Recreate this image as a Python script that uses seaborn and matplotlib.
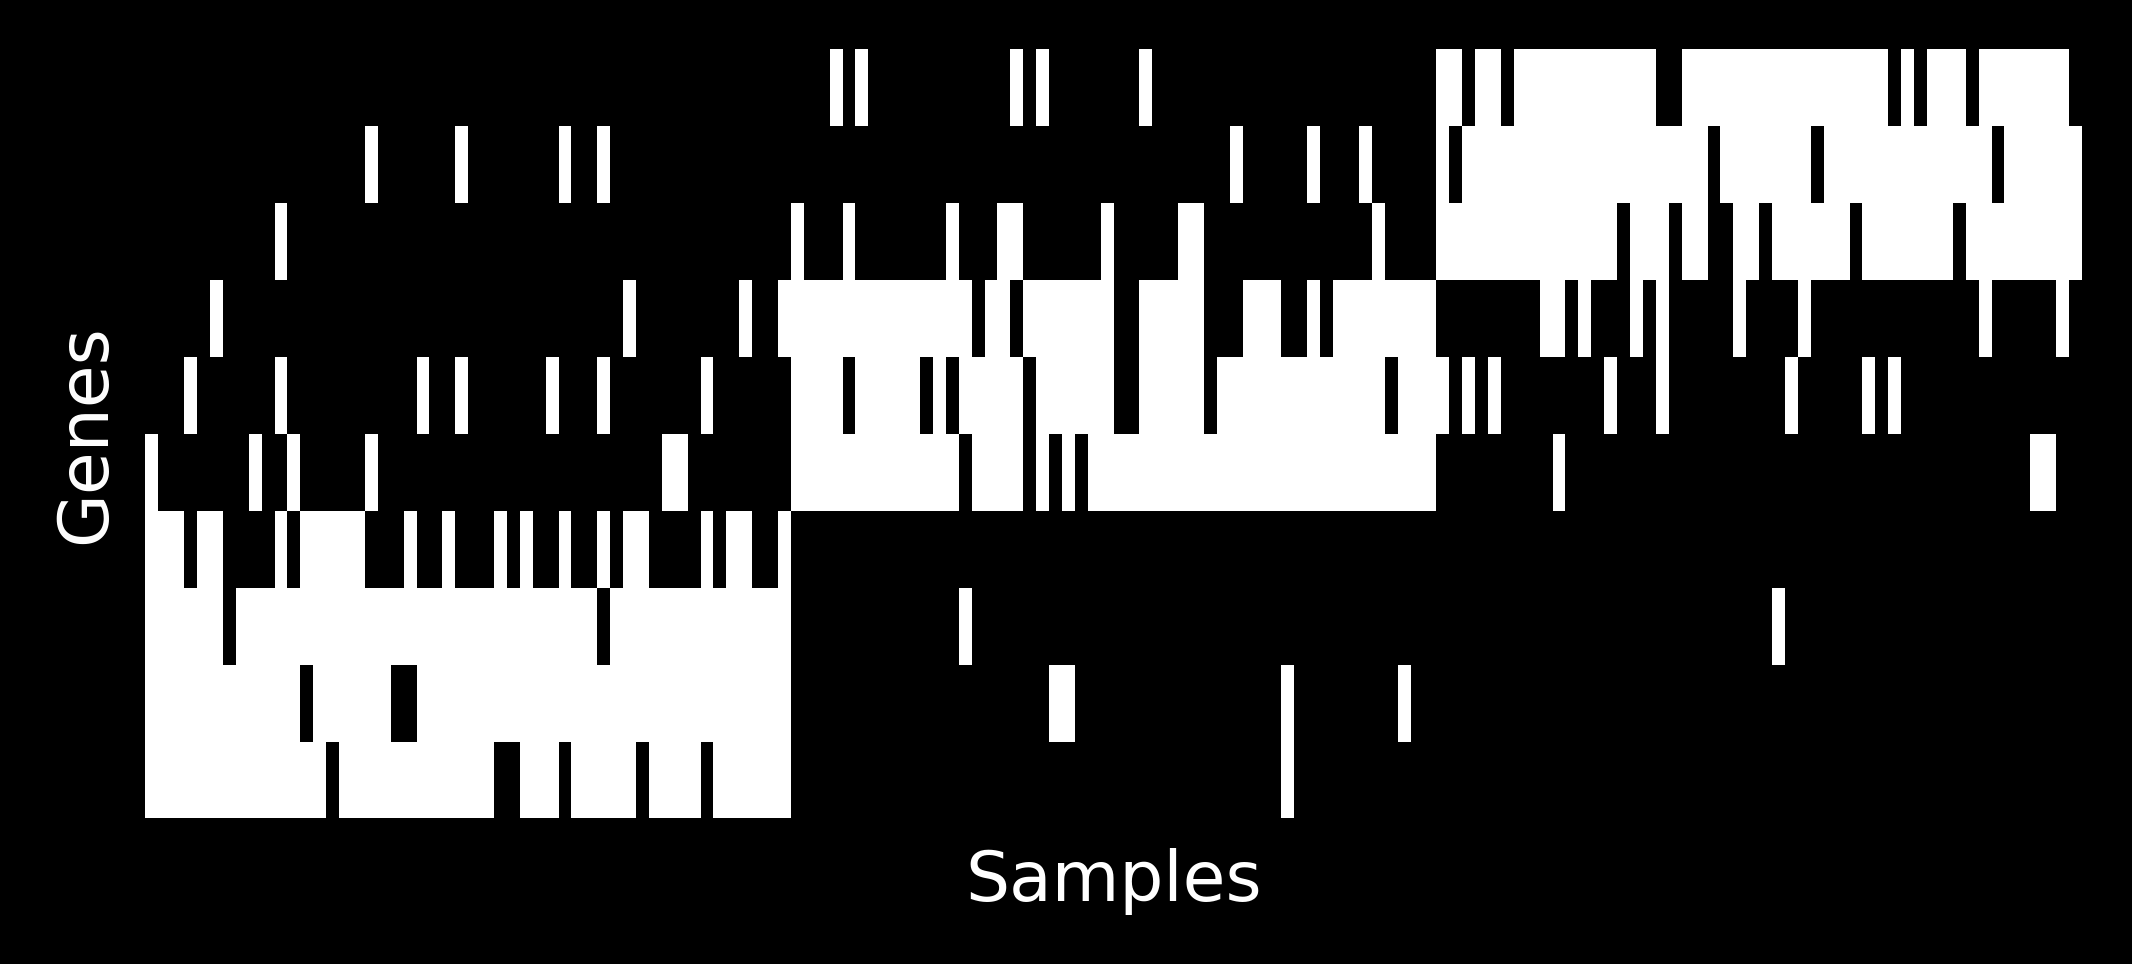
import numpy as np
import pandas as pd
import matplotlib
matplotlib.use("Agg")
import matplotlib.pyplot as plt
import seaborn as sns

# binary gene x sample matrix (10 genes, 150 samples)
# three sample groups of 50, one 0/1 string per gene, top gene first
group_1 = [
    "0000000000 0000000000 0000000000 0000000000 0000000000",
    "0000000000 0000000100 0000100000 0010010000 0000000000",
    "0000000000 1000000000 0000000000 0000000000 0000000000",
    "0000010000 0000000000 0000000000 0000000100 0000001001",
    "0001000000 1000000000 0100100000 0100010000 0001000000",
    "1000000010 0100000100 0000000000 0000000000 1100000000",
    "1110110000 1011111000 1001000101 0010010110 0001011001",
    "1111110111 1111111111 1111111111 1111101111 1111111111",
    "1111111111 1101111110 0111111111 1111111111 1111111111",
    "1111111111 1111011111 1111111001 1101111101 1110111111",
]
group_2 = [
    "0001010000 0000000101 0000000100 0000000000 0000000000",
    "0000000000 0000000000 0000000000 0000100000 1000100000",
    "1000100000 0010001100 0000100000 1100000000 0000010000",
    "1111111111 1111011011 1111100111 1100011100 1011111111",
    "1111011111 0101111101 1111100111 1101111111 1111110111",
    "1111111111 1110111101 0101111111 1111111111 1111111111",
    "0000000000 0000000000 0000000000 0000000000 0000000000",
    "0000000000 0001000000 0000000000 0000000000 0000000000",
    "0000000000 0000000000 1100000000 0000000010 0000000100",
    "0000000000 0000000000 0000000000 0000000010 0000000000",
]
group_3 = [
    "1101101111 1111111001 1111111111 1111101011 1011111110",
    "1011111111 1111111111 1011111110 1111111111 1110111111",
    "1111111111 1111011101 1001101111 1101111111 0111111111",
    "0000000011 0100010100 0001000010 0000000000 0010000010",
    "1010100000 0001000100 0000000100 0001010000 0000000000",
    "0000000001 0000000000 0000000000 0000000000 0000001100",
    "0000000000 0000000000 0000000000 0000000000 0000000000",
    "0000000000 0000000000 0000001000 0000000000 0000000000",
    "0000000000 0000000000 0000000000 0000000000 0000000000",
    "0000000000 0000000000 0000000000 0000000000 0000000000",
]

gene_names = [f"gene_{i + 1}" for i in range(10)]

rows = []
for a, b, c in zip(group_1, group_2, group_3):
    s = (a + b + c).replace(" ", "")
    rows.append([int(ch) for ch in s])
matrix = np.array(rows)
sample_names = [f"s{i + 1}" for i in range(matrix.shape[1])]
df = pd.DataFrame(matrix, index=gene_names, columns=sample_names)

# style
sns.set_theme(style="white", font="DejaVu Sans")
plt.rcParams["font.family"] = ["DejaVu Sans"]

fig = plt.figure(figsize=(10.66, 4.82), dpi=200, facecolor="black")
ax = fig.add_axes([0.0682, 0.151, 0.9083, 0.798])
sns.heatmap(df, cmap=["black", "white"], vmin=0, vmax=1, cbar=False,
            xticklabels=False, yticklabels=False, ax=ax)

ax.set_xlabel("Samples", color="white", fontsize=25)
ax.set_ylabel("Genes", color="white", fontsize=25)
ax.xaxis.set_label_coords(0.5, -0.038)
ax.yaxis.set_label_coords(-0.0135, 0.5)
ax.tick_params(length=0)

fig.savefig("out.png", dpi=200, facecolor="black")
